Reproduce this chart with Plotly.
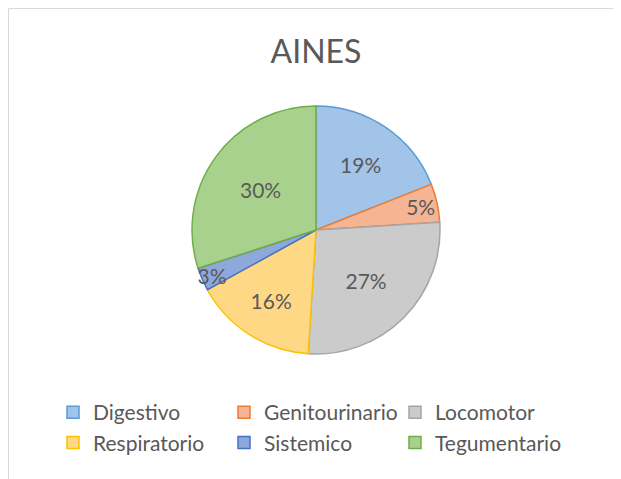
import plotly.graph_objects as go

categories = ["Digestivo", "Genitourinario", "Locomotor", "Respiratorio", "Sistemico", "Tegumentario"]
values = [19, 5, 27, 16, 3, 30]
fill_colors = ["#A2C4E9", "#F5B594", "#CBCBCB", "#FFD886", "#8FA8DC", "#A9D18E"]
line_colors = ["#5B9BD5", "#ED7D31", "#A5A5A5", "#FFC000", "#4472C4", "#70AD47"]

W, H = 621, 479
OFF = 8  # page body margin


def px(x):
    return (x - OFF) / W


def py(y):
    return 1 - (y - OFF) / H


FONT = "Lato, Calibri, Carlito, sans-serif"
GRAY = "#595959"

CX, CY, R = 316, 230, 124

fig = go.Figure(go.Pie(
    labels=categories,
    values=values,
    sort=False,
    direction="clockwise",
    rotation=0,
    marker=dict(colors=fill_colors, line=dict(color=line_colors, width=1.5)),
    texttemplate="%{percent:.0%}",
    textposition="inside",
    insidetextorientation="horizontal",
    textfont=dict(family=FONT, size=21, color=GRAY),
    hoverinfo="label+percent",
    domain=dict(x=[px(CX - R), px(CX + R)], y=[py(CY + R), py(CY - R)]),
))

fig.update_layout(
    width=W, height=H,
    margin=dict(l=0, r=0, t=0, b=0),
    paper_bgcolor="white",
    plot_bgcolor="white",
    title=dict(text="AINES", x=px(316), xanchor="center", y=py(52), yanchor="middle",
               font=dict(family=FONT, size=32, color=GRAY)),
    uniformtext=dict(mode="show", minsize=21),
    showlegend=True,
    legend=dict(
        orientation="h",
        x=px(53), xanchor="left",
        y=py(392), yanchor="top",
        entrywidth=126, entrywidthmode="pixels",
        font=dict(family=FONT, size=21, color=GRAY),
        traceorder="normal",
    ),
    shapes=[dict(type="rect", xref="paper", yref="paper",
                 x0=0.5 / W, x1=1.1, y0=-0.1, y1=1 - 0.5 / H,
                 line=dict(color="#D9D9D9", width=1), fillcolor="rgba(0,0,0,0)")],
)

fig.write_html("out.html")
